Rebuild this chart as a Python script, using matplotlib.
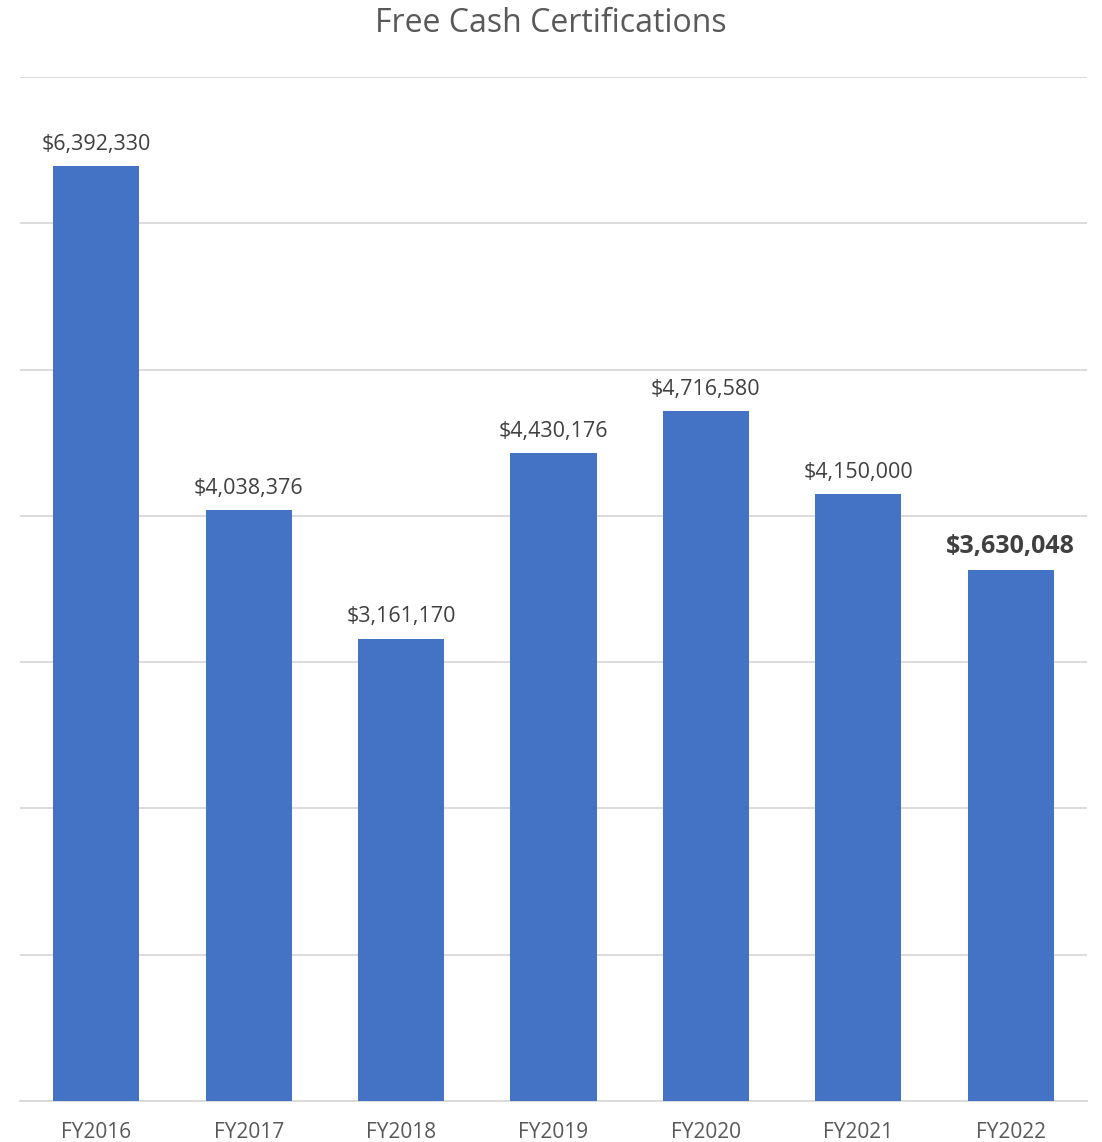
import matplotlib.pyplot as plt
from matplotlib.ticker import MultipleLocator

plt.rcParams["font.family"] = ["Open Sans", "DejaVu Sans"]

years = ["FY2016", "FY2017", "FY2018", "FY2019", "FY2020", "FY2021", "FY2022"]
amounts = [6392330, 4038376, 3161170, 4430176, 4716580, 4150000, 3630048]

BAR_COLOR = "#4472C4"
GRID_COLOR = "#D9D9D9"
TEXT_DARK = "#404040"
TEXT_GRAY = "#595959"

fig = plt.figure(figsize=(11.02, 11.42), dpi=100)
ax = fig.add_axes([20 / 1102, 41 / 1142, 1067 / 1102, 1024 / 1142])

x = range(len(years))
bars = ax.bar(x, amounts, width=0.565, color=BAR_COLOR, zorder=3)

ax.set_xlim(-0.5, len(years) - 0.5)
ax.set_ylim(0, 7000000)
ax.yaxis.set_major_locator(MultipleLocator(1000000))
ax.grid(axis="y", color=GRID_COLOR, linewidth=1.3, zorder=0)
ax.tick_params(axis="y", left=False, labelleft=False)
ax.tick_params(axis="x", length=0, pad=15, labelsize=15, labelcolor=TEXT_GRAY)
ax.set_xticks(list(x))
ax.set_xticklabels(years)

for side in ("left", "right", "top"):
    ax.spines[side].set_visible(False)
ax.spines["bottom"].set_color(GRID_COLOR)
ax.spines["bottom"].set_linewidth(1.3)

# value labels above each bar; last year highlighted
for i, (bar, val) in enumerate(zip(bars, amounts)):
    last = i == len(amounts) - 1
    ax.annotate(
        f"${val:,.0f}",
        (bar.get_x() + bar.get_width() / 2, val),
        xytext=(0, 8),
        textcoords="offset points",
        ha="center",
        va="bottom",
        fontsize=18 if last else 15.5,
        fontweight="bold" if last else "normal",
        color=TEXT_DARK,
    )

fig.text(0.5, 1 - 23 / 1142, "Free Cash Certifications", ha="center", va="center",
         fontsize=23, color=TEXT_GRAY)

fig.savefig("out.png", dpi=100)
